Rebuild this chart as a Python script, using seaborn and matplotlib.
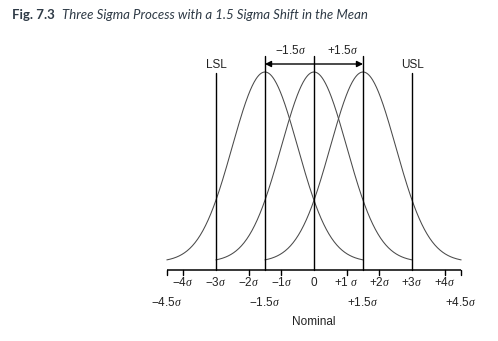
import numpy as np
import pandas as pd
import matplotlib
matplotlib.use("Agg")
import matplotlib.pyplot as plt
import seaborn as sns

# Process means (in sigma units) and specification limits
means = [-1.5, 0.0, 1.5]
spec_limits = [-3.0, 3.0]
spec_names = ["LSL", "USL"]
shift_lines = [-1.5, 0.0, 1.5]
sigma = 1.0
half_width = 3.0  # each curve drawn over mean ± 3 sigma

# Axis ticks and labels
small_ticks = [-4.5, -4, -2, -1, 1, 2, 4, 4.5]
row1_pos = [-4, -3, -2, -1, 0, 1, 2, 3, 4]
row1_lab = ["\u22124$\\sigma$", "\u22123$\\sigma$", "\u22122$\\sigma$", "\u22121$\\sigma$", "0",
            "+1 $\\sigma$", "+2$\\sigma$", "+3$\\sigma$", "+4$\\sigma$"]
row2_pos = [-4.5, -1.5, 1.5, 4.5]
row2_lab = ["\u22124.5$\\sigma$", "\u22121.5$\\sigma$", "+1.5$\\sigma$", "+4.5$\\sigma$"]

sns.set_theme(style="white")
plt.rcParams["font.family"] = ["Liberation Sans", "DejaVu Sans"]
plt.rcParams["mathtext.fontset"] = "custom"
plt.rcParams["mathtext.it"] = "Liberation Serif:italic"
plt.rcParams["mathtext.rm"] = "Liberation Sans"
plt.rcParams["mathtext.sf"] = "Liberation Sans"

W, H = 498, 341
fig = plt.figure(figsize=(W / 100, H / 100), dpi=100)
ax = fig.add_axes([0, 0, 1, 1])

# Build the three bell curves (normalised to unit peak height)
rows = []
for m in means:
    xs = np.linspace(m - half_width * sigma, m + half_width * sigma, 300)
    ys = np.exp(-0.5 * ((xs - m) / sigma) ** 2)
    for x, y in zip(xs, ys):
        rows.append({"x": x, "y": y, "mean": m})
df = pd.DataFrame(rows)
sns.lineplot(data=df, x="x", y="y", units="mean", estimator=None,
             color="#4a4a4a", lw=0.75, ax=ax, legend=False)

# Pixel-calibrated data window
px0, psig = 314.0, 32.7
ybase, yh = 262.0, 190.0
ax.set_xlim(-px0 / psig, (W - px0) / psig)
ax.set_ylim((ybase - H) / yh, ybase / yh)
ax.axis("off")

def fy(p):
    return (ybase - p) / yh

axis_y = fy(269.5)
tick_bot = fy(275.0)

# Baseline
ax.plot([-4.5, 4.5], [axis_y, axis_y], color="black", lw=1.1, solid_capstyle="butt")
for t in small_ticks:
    ax.plot([t, t], [axis_y, tick_bot], color="black", lw=1.0)

# Spec limits
for s, name in zip(spec_limits, spec_names):
    ax.plot([s, s], [axis_y, fy(73)], color="black", lw=1.0)
    ax.text(s, fy(65), name, ha="center", va="center", fontsize=8.5, color="#222")

# Mean shift lines
for s in shift_lines:
    ax.plot([s, s], [axis_y, fy(56)], color="black", lw=1.0)

ax.annotate("", xy=(-1.5, fy(64)), xytext=(1.5, fy(64)),
            arrowprops=dict(arrowstyle="<|-|>", color="black", lw=1.0,
                            shrinkA=0, shrinkB=0, mutation_scale=9))
ax.text(-0.72, fy(50), "\u22121.5$\\sigma$", ha="center", va="center", fontsize=8.5, color="#222")
ax.text(0.88, fy(50), "+1.5$\\sigma$", ha="center", va="center", fontsize=8.5, color="#222")

for p, lab in zip(row1_pos, row1_lab):
    ax.text(p, fy(283), lab, ha="center", va="center", fontsize=8.5, color="#222")
for p, lab in zip(row2_pos, row2_lab):
    ax.text(p, fy(303), lab, ha="center", va="center", fontsize=8.5, color="#222")
ax.text(0, fy(322), "Nominal", ha="center", va="center", fontsize=8.5, color="#222")

# Caption
fig.text(12 / W, 1 - 15 / H, "Fig. 7.3", fontsize=9.5, fontweight="bold",
         family=["Lato", "DejaVu Sans"], color="#2e3a46", va="center", ha="left")
fig.text(62 / W, 1 - 15 / H, "Three Sigma Process with a 1.5 Sigma Shift in the Mean",
         fontsize=9.5, style="italic", family=["Lato", "DejaVu Sans"],
         color="#2e3a46", va="center", ha="left")

fig.savefig("out.png", dpi=100)
